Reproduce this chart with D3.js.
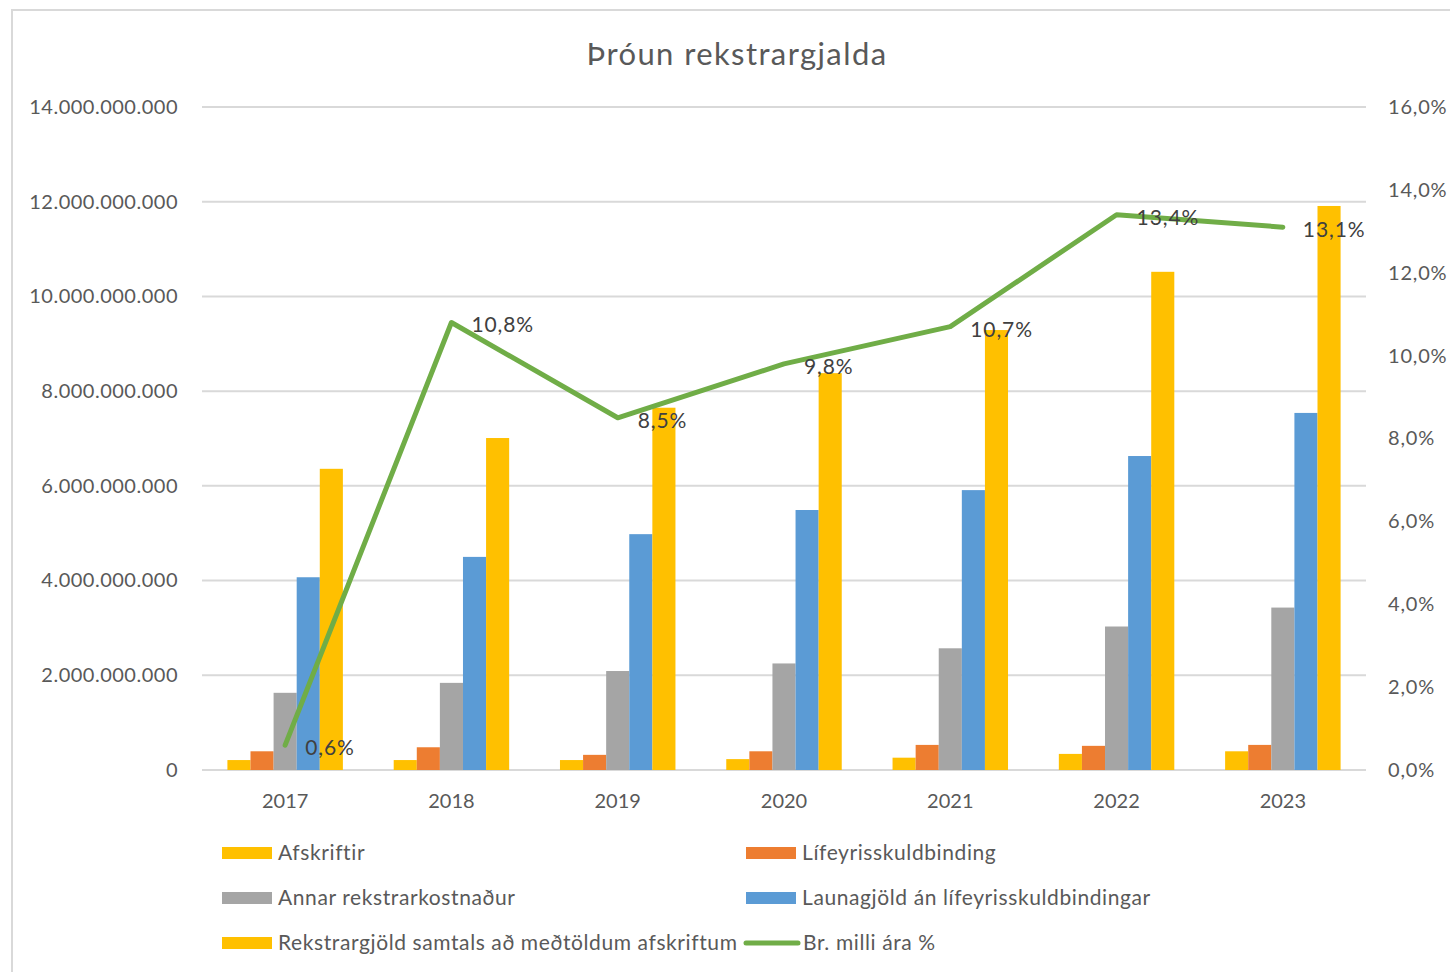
<!DOCTYPE html>
<html>
<head>
<meta charset="utf-8">
<script src="https://cdn.jsdelivr.net/npm/d3@7"></script>
<style>
  body { margin: 0; background: #fff; }
  text { font-family: Lato, "Open Sans", sans-serif; }
</style>
</head>
<body>
<div id="chart"></div>
<script>
var years = ["2017", "2018", "2019", "2020", "2021", "2022", "2023"];

var afskriftir = [0.21e9, 0.21e9, 0.21e9, 0.23e9, 0.26e9, 0.34e9, 0.395e9];
var lifeyris = [0.395e9, 0.48e9, 0.32e9, 0.395e9, 0.53e9, 0.51e9, 0.53e9];
var annar = [1.63e9, 1.84e9, 2.09e9, 2.25e9, 2.57e9, 3.03e9, 3.43e9];
var launagjold = [4.07e9, 4.50e9, 4.98e9, 5.49e9, 5.91e9, 6.63e9, 7.54e9];
var samtals = [6.36e9, 7.01e9, 7.65e9, 8.38e9, 9.29e9, 10.52e9, 11.91e9];
var breyting = [0.006, 0.108, 0.085, 0.098, 0.107, 0.134, 0.131];

var leftTicks = [0, 2e9, 4e9, 6e9, 8e9, 10e9, 12e9, 14e9];
var rightTicks = [0, 0.02, 0.04, 0.06, 0.08, 0.10, 0.12, 0.14, 0.16];

var seriesNames = ["Afskriftir", "Lífeyrisskuldbinding", "Annar rekstrarkostnaður",
  "Launagjöld án lífeyrisskuldbindingar", "Rekstrargjöld samtals að meðtöldum afskriftum"];
var seriesValues = [afskriftir, lifeyris, annar, launagjold, samtals];
var colors = ["#FFC000", "#ED7D31", "#A5A5A5", "#5B9BD5", "#FFC000"];
var lineColor = "#70AD47";
var lineName = "Br. milli ára %";

var width = 1450, height = 972;
var plotLeft = 202, plotRight = 1366, plotTop = 107, plotBottom = 770;

var svg = d3.select("#chart").append("svg")
    .attr("width", width)
    .attr("height", height);

svg.append("rect")
    .attr("x", 12).attr("y", 10)
    .attr("width", 1460).attr("height", 1000)
    .attr("fill", "#fff")
    .attr("stroke", "#d9d9d9")
    .attr("stroke-width", 2);

var x = d3.scaleBand().domain(years).range([plotLeft, plotRight]);
var y = d3.scaleLinear().domain([0, 14e9]).range([plotBottom, plotTop]);
var y2 = d3.scaleLinear().domain([0, 0.16]).range([plotBottom, plotTop]);

var fmtBig = function(d) { return d3.format(",")(d).replace(/,/g, "."); };
var fmtPct = function(d) { return d3.format(".1f")(d * 100).replace(".", ",") + "%"; };

// title
svg.append("text")
    .attr("x", 737).attr("y", 65)
    .attr("text-anchor", "middle")
    .attr("font-size", 31)
    .attr("letter-spacing", 1.4)
    .attr("fill", "#595959")
    .text("Þróun rekstrargjalda");

// gridlines
svg.append("g").selectAll("line")
    .data(leftTicks)
    .enter().append("line")
    .attr("x1", plotLeft).attr("x2", plotRight)
    .attr("y1", function(d) { return y(d); })
    .attr("y2", function(d) { return y(d); })
    .attr("stroke", "#d9d9d9")
    .attr("stroke-width", 2);

// left axis
var gl = svg.append("g")
    .attr("transform", "translate(" + (plotLeft - 2) + ",0)")
    .call(d3.axisLeft(y).tickValues(leftTicks).tickFormat(fmtBig).tickSize(0).tickPadding(22));
gl.select(".domain").remove();
gl.selectAll("text").attr("font-size", 20).attr("letter-spacing", 0.5)
    .attr("fill", "#595959").attr("font-family", "Lato");

// right axis
var gr = svg.append("g")
    .attr("transform", "translate(" + (plotRight + 2) + ",0)")
    .call(d3.axisRight(y2).tickValues(rightTicks).tickFormat(fmtPct).tickSize(0).tickPadding(20));
gr.select(".domain").remove();
gr.selectAll("text").attr("font-size", 20).attr("letter-spacing", 0.8)
    .attr("fill", "#595959").attr("font-family", "Lato");

// x axis
var gx = svg.append("g")
    .attr("transform", "translate(0," + plotBottom + ")")
    .call(d3.axisBottom(x).tickSize(0).tickPadding(24));
gx.select(".domain").remove();
gx.selectAll("text").attr("font-size", 20).attr("fill", "#595959").attr("font-family", "Lato");

// bars
var inner = d3.scaleBand().domain(d3.range(5))
    .range([0, x.bandwidth()])
    .paddingOuter(1.1);

var groups = svg.append("g").selectAll("g")
    .data(years)
    .enter().append("g")
    .attr("transform", function(d) { return "translate(" + x(d) + ",0)"; });

groups.selectAll("rect")
    .data(function(d, i) { return seriesValues.map(function(s, k) { return { k: k, v: s[i] }; }); })
    .enter().append("rect")
    .attr("x", function(d) { return inner(d.k); })
    .attr("width", inner.bandwidth())
    .attr("y", function(d) { return y(d.v); })
    .attr("height", function(d) { return plotBottom - y(d.v); })
    .attr("fill", function(d) { return colors[d.k]; });

// line
var line = d3.line()
    .x(function(d, i) { return x(years[i]) + x.bandwidth() / 2; })
    .y(function(d) { return y2(d); });

svg.append("path")
    .datum(breyting)
    .attr("fill", "none")
    .attr("stroke", lineColor)
    .attr("stroke-width", 5)
    .attr("stroke-linejoin", "round")
    .attr("stroke-linecap", "round")
    .attr("d", line);

svg.append("g").selectAll("text")
    .data(breyting)
    .enter().append("text")
    .attr("x", function(d, i) { return x(years[i]) + x.bandwidth() / 2 + 20; })
    .attr("y", function(d) { return y2(d) + 10; })
    .attr("font-size", 21)
    .attr("letter-spacing", 0.9)
    .attr("fill", "#404040")
    .text(fmtPct);

// legend
var legendItems = [
  { name: seriesNames[0], color: colors[0], type: "bar", x: 222, y: 853 },
  { name: seriesNames[1], color: colors[1], type: "bar", x: 746, y: 853 },
  { name: seriesNames[2], color: colors[2], type: "bar", x: 222, y: 898 },
  { name: seriesNames[3], color: colors[3], type: "bar", x: 746, y: 898 },
  { name: seriesNames[4], color: colors[4], type: "bar", x: 222, y: 943 },
  { name: lineName, color: lineColor, type: "line", x: 746, y: 943 }
];

var lg = svg.append("g").selectAll("g")
    .data(legendItems)
    .enter().append("g")
    .attr("transform", function(d) { return "translate(" + d.x + "," + d.y + ")"; });

lg.filter(function(d) { return d.type === "bar"; }).append("rect")
    .attr("x", 0).attr("y", -6)
    .attr("width", 50).attr("height", 12)
    .attr("fill", function(d) { return d.color; });

lg.filter(function(d) { return d.type === "line"; }).append("line")
    .attr("x1", 0).attr("x2", 52)
    .attr("y1", 0).attr("y2", 0)
    .attr("stroke", function(d) { return d.color; })
    .attr("stroke-width", 5)
    .attr("stroke-linecap", "round");

lg.append("text")
    .attr("x", function(d) { return d.type === "line" ? 57 : 56; })
    .attr("y", 7)
    .attr("font-size", 21)
    .attr("letter-spacing", 0.6)
    .attr("fill", "#595959")
    .text(function(d) { return d.name; });
</script>
</body>
</html>
